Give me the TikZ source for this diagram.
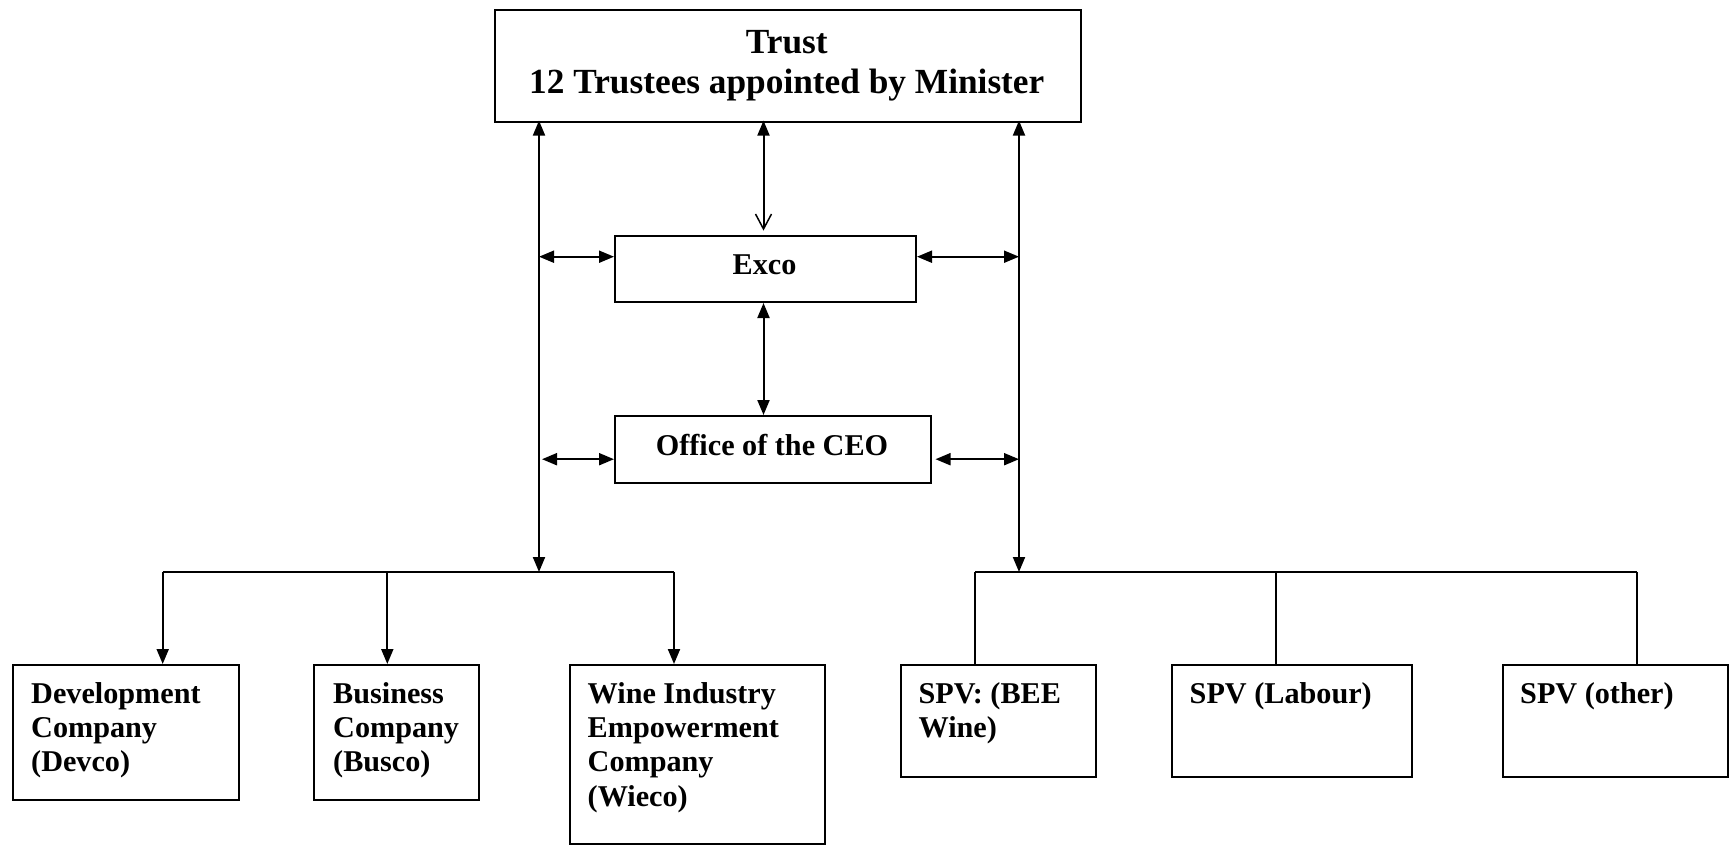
\documentclass[tikz,border=0pt]{standalone}
\usepackage{fontspec}
\setmainfont{Liberation Serif}
\usetikzlibrary{arrows.meta}
\begin{document}
\begin{tikzpicture}[x=1pt,y=-1pt,
  box/.style={draw,line width=2pt,inner sep=0pt,anchor=north west},
  conn/.style={line width=2pt},
  fa/.style={conn,{Triangle[length=15pt,width=12pt]}-{Triangle[length=15pt,width=12pt]}},
  down/.style={conn,-{Triangle[length=15pt,width=12pt]}},
  txt/.style={anchor=north west,inner sep=0pt,align=left,font=\bfseries\fontsize{30.2}{34.3}\selectfont},
  ctr/.style={inner sep=0pt,align=center,font=\bfseries\fontsize{30.2}{34.3}\selectfont}]
\useasboundingbox (0,0) rectangle (1735,844);
% top
\node[box,minimum width=586.5pt,minimum height=111.6pt] (trust) at (493.5,9) {};
\node[inner sep=0pt,align=center,font=\bfseries\fontsize{35.3}{39.8}\selectfont] (trusttxt) at (786.8,65.4) {Trust\\12 Trustees appointed by Minister};
\node[box,minimum width=301pt,minimum height=66.4pt] (exco) at (614,234.6) {};
\node[ctr] (excotxt) at (764.6,265.2) {Exco};
\node[box,minimum width=315.5pt,minimum height=67.4pt] (ceo) at (614,415) {};
\node[ctr] (ceotxt) at (772,444.8) {Office of the CEO};
% bottom boxes
\node[box,minimum width=225.7pt,minimum height=135pt] (devco) at (12.2,664) {};
\node[box,minimum width=165pt,minimum height=135pt] (busco) at (313,664) {};
\node[box,minimum width=255.6pt,minimum height=178.5pt] (wieco) at (568.7,664) {};
\node[box,minimum width=195.8pt,minimum height=111.7pt] (bee) at (899.6,664) {};
\node[box,minimum width=240.1pt,minimum height=111.7pt] (labour) at (1170.7,664) {};
\node[box,minimum width=225.7pt,minimum height=111.7pt] (other) at (1501.5,664) {};
\node[txt] (devcotxt) at (31,682.2) {Development\\Company\\(Devco)};
\node[txt] (buscotxt) at (333,682.2) {Business\\Company\\(Busco)};
\node[txt] (wiecotxt) at (587.5,682.2) {Wine Industry\\Empowerment\\Company\\(Wieco)};
\node[txt] (beetxt) at (918.4,682.2) {SPV: (BEE\\Wine)};
\node[txt] (labourtxt) at (1189.5,682.2) {SPV (Labour)};
\node[txt] (othertxt) at (1520,682.2) {SPV (other)};
% coordinates
\coordinate (ltop) at (539,120.6);
\coordinate (lbus) at (539,572);
\coordinate (rtop) at (1019,120.6);
\coordinate (rbus) at (1019,572);
\coordinate (mtop) at (763.5,120.6);
\coordinate (lexco) at (539,256.7);
\coordinate (rexco) at (1019,256.7);
\coordinate (lceo) at (542,459.2);
\coordinate (rceo) at (1019,459.2);
\coordinate (lbusL) at (162.7,572);
\coordinate (lbusR) at (674,572);
\coordinate (rbusL) at (975,572);
\coordinate (rbusR) at (1636.5,572);
% connectors
\draw[fa] (lbus) -- (ltop);
\draw[fa] (rbus) -- (rtop);
\draw[conn,{Triangle[length=15pt,width=12pt]}-{Straight Barb[length=15pt,width=16pt,line width=1.5pt]},shorten >=4pt] (mtop) -- (mtop |- exco.north);
\draw[fa] (exco.south -| mtop) -- (ceo.north -| mtop);
\draw[fa] (lexco) -- (lexco -| exco.west);
\draw[fa] (lexco -| exco.east) -- (rexco);
\draw[fa] (lceo) -- (lceo -| ceo.west);
\draw[fa] ([xshift=4pt]lceo -| ceo.east) -- (rceo);
\draw[conn] (lbusL) -- (lbusR);
\draw[conn] (rbusL) -- (rbusR);
\draw[down] (lbusL) -- (lbusL |- devco.north);
\draw[down] (387.3,572) -- (387.3,664);
\draw[down] (lbusR) -- (lbusR |- wieco.north);
\draw[conn] (rbusL) -- (rbusL |- bee.north);
\draw[conn] (1276,572) -- (1276,664);
\draw[conn] (rbusR) -- (rbusR |- other.north);
\end{tikzpicture}
\end{document}
